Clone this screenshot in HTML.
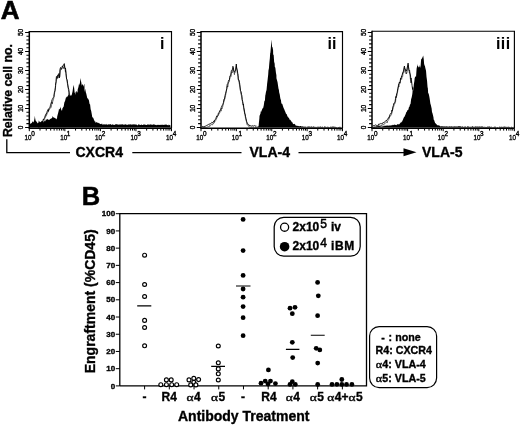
<!DOCTYPE html>
<html><head><meta charset="utf-8"><style>
html,body{margin:0;padding:0;background:#fff;}
svg{display:block;will-change:transform;filter:blur(0.28px);}
text{font-family:"Liberation Sans", sans-serif;fill:#000;stroke:#000;stroke-width:0.35px;}
</style></head><body>
<svg width="520" height="426" viewBox="0 0 520 426">
<text x="0.8" y="19.4" font-size="26" font-weight="bold" style="stroke-width:0.6px">A</text>
<path d="M38.50,125.50L39.05,125.77L39.60,124.89L40.15,124.84L40.50,124.00L40.70,124.10L41.25,124.05L41.80,122.70L42.35,121.54L42.90,120.62L43.40,119.20L43.45,119.87L44.00,118.79L44.55,117.69L45.10,116.07L45.65,114.70L45.70,114.20L46.20,114.51L46.75,112.97L47.30,111.09L47.85,110.16L48.00,109.60L48.40,111.41L48.95,108.31L49.50,107.91L50.05,107.39L50.30,105.80L50.60,104.88L51.15,103.06L51.70,101.42L52.00,100.00L52.25,99.45L52.80,98.34L53.35,97.50L53.90,96.68L54.00,95.00L54.45,92.20L55.00,90.78L55.55,85.45L55.60,84.00L56.10,81.73L56.40,76.50L56.65,76.51L57.20,78.19L57.75,74.88L58.30,75.64L58.85,73.95L58.90,73.50L59.40,77.88L59.95,69.66L60.50,67.50L61.05,68.71L61.60,69.20L62.15,66.63L62.20,66.00L62.70,66.79L63.25,64.99L63.80,64.94L64.30,63.60L64.35,64.01L64.90,67.95L65.45,69.13L65.50,68.20L66.00,73.33L66.55,79.10L67.10,79.70L67.65,83.72L68.20,87.16L68.75,89.31L68.80,89.60L69.30,93.97L69.60,94.50L69.85,96.26L70.40,98.89L70.95,99.95L71.00,100.00L71.50,102.95L72.05,103.84L72.60,104.95L73.00,106.00L73.15,106.81L73.70,106.79L74.25,106.48L74.80,107.70" fill="none" stroke="#000" stroke-width="0.9"/>
<path d="M38.50,127.30L39.05,127.40L39.60,126.50L40.15,126.23L40.50,125.80L40.70,126.05L41.25,125.42L41.80,124.50L42.35,124.13L42.90,122.69L43.40,121.00L43.45,120.95L44.00,120.21L44.55,118.86L45.10,117.83L45.65,117.07L45.70,116.00L46.20,115.97L46.75,114.69L47.30,113.32L47.85,112.31L48.00,111.40L48.40,111.21L48.95,110.04L49.50,109.03L50.05,108.83L50.30,107.60L50.60,107.32L51.15,107.60L51.70,104.49L52.00,101.80L52.25,103.88L52.80,101.29L53.35,99.82L53.90,97.60L54.00,96.80L54.45,94.31L55.00,90.18L55.55,87.30L55.60,85.80L56.10,81.85L56.40,78.30L56.65,78.50L57.20,78.90L57.75,77.29L58.30,77.77L58.85,75.52L58.90,75.30L59.40,77.35L59.95,76.90L60.50,69.30L61.05,69.65L61.60,68.77L62.15,68.25L62.20,67.80L62.70,67.83L63.25,67.17L63.80,68.75L64.30,65.40L64.35,65.98L64.90,68.04L65.45,71.83L65.50,70.00L66.00,73.74L66.55,78.30L67.10,81.50L67.65,85.21L68.20,88.45L68.75,91.51L68.80,91.40L69.30,95.21L69.60,96.30L69.85,98.95L70.40,100.29L70.95,102.45L71.00,101.80L71.50,104.32L72.05,105.22L72.60,106.88L73.00,107.80" fill="none" stroke="#000" stroke-width="0.7" opacity="0.8"/>
<path d="M29.6,127.6L29.60,124.39L30.15,123.88L30.30,123.80L30.70,123.57L31.25,123.15L31.80,122.91L32.35,121.79L32.60,121.50L32.90,121.58L33.45,122.41L34.00,121.00L34.55,118.21L34.90,115.80L35.10,117.99L35.65,121.09L35.70,120.40L36.20,121.32L36.75,122.02L37.30,122.75L37.85,123.53L38.00,123.00L38.40,122.73L38.80,120.00L38.95,121.41L39.50,121.34L40.05,122.48L40.30,121.90L40.60,122.09L41.15,121.51L41.70,121.27L42.00,120.40L42.25,120.67L42.80,121.14L43.35,122.83L43.40,121.50L43.90,121.65L44.45,120.94L45.00,120.20L45.55,121.48L45.70,119.60L46.10,119.53L46.65,119.69L47.20,118.80L47.75,119.58L48.30,119.77L48.80,119.60L48.85,120.05L49.40,119.63L49.95,119.36L50.50,118.87L51.05,118.76L51.10,118.50L51.60,118.30L52.15,117.96L52.60,115.80L52.70,116.62L53.25,116.92L53.80,117.70L54.20,117.30L54.35,117.94L54.90,118.01L55.45,118.43L55.70,118.50L56.00,118.40L56.55,119.46L57.10,117.85L57.20,116.50L57.65,114.76L58.20,112.77L58.75,110.62L58.80,109.60L59.30,109.18L59.85,109.04L60.30,106.50L60.40,107.41L60.95,108.73L61.50,110.46L61.80,110.40L62.05,110.52L62.50,108.00L62.60,108.18L63.15,107.28L63.70,106.56L64.25,102.95L64.70,101.10L64.80,102.31L65.35,99.85L65.90,97.70L66.30,96.20L66.45,97.62L67.00,97.35L67.55,96.33L68.10,95.47L68.65,94.36L68.80,92.90L69.20,94.41L69.75,96.11L70.30,95.66L70.85,95.24L71.20,95.30L71.40,95.73L71.95,94.12L72.50,91.65L73.05,88.12L73.60,85.53L73.70,84.70L74.15,88.01L74.70,93.28L75.25,91.65L75.30,91.20L75.80,95.04L76.35,90.71L76.90,91.66L77.45,92.68L77.80,88.80L78.00,88.73L78.55,86.53L79.10,83.28L79.65,85.48L80.20,80.24L80.30,78.10L80.75,80.03L81.30,82.47L81.85,86.27L81.90,84.70L82.40,84.53L82.95,84.58L83.50,86.78L84.05,84.61L84.40,83.80L84.60,91.91L85.15,88.74L85.70,91.57L86.00,92.90L86.25,93.48L86.80,95.96L87.35,98.44L87.90,98.30L88.45,100.31L88.50,98.60L89.00,100.63L89.55,104.02L90.10,104.40L90.65,109.17L91.20,110.95L91.75,114.09L91.80,114.20L92.30,117.52L92.85,117.13L93.40,118.35L93.95,119.78L94.20,120.00L94.50,121.62L95.05,120.94L95.60,122.66L96.15,122.50L96.70,121.99L97.25,122.43L97.50,122.50L97.80,122.98L98.35,122.79L98.90,123.27L99.45,123.32L100.00,123.91L100.55,124.03L101.10,124.22L101.65,123.81L102.00,123.50L102.20,123.72L102.75,125.06L103.30,124.23L103.85,124.38L104.40,123.95L104.95,125.00L105.50,124.44L106.05,123.79L106.60,124.39L107.15,124.89L107.70,124.52L108.25,124.08L108.80,124.66L109.35,124.28L109.90,124.45L110.00,124.00L110.45,124.07L111.00,124.75L111.55,124.91L112.10,124.11L112.65,124.87L113.20,124.61L113.75,125.04L114.30,124.79L114.85,125.03L115.40,124.26L115.95,124.24L116.50,124.23L117.05,124.36L117.60,124.46L118.15,124.87L118.70,124.42L119.25,124.85L119.80,124.29L120.35,124.59L120.90,124.59L121.45,124.27L122.00,124.64L122.55,124.12L123.10,124.69L123.65,124.50L124.20,124.89L124.75,124.28L125.30,124.32L125.85,124.47L126.40,124.95L126.95,124.19L127.50,124.98L128.05,124.65L128.60,124.37L129.15,124.81L129.70,124.28L130.25,124.50L130.80,124.29L131.35,124.43L131.90,124.63L132.45,124.22L133.00,124.69L133.55,124.26L134.10,124.22L134.65,124.50L135.20,124.56L135.75,124.39L136.30,124.79L136.85,124.46L137.40,125.48L137.95,125.11L138.50,124.24L139.05,124.57L139.60,124.78L140.15,125.10L140.70,124.93L141.25,124.26L141.80,124.89L142.35,124.92L142.90,125.12L143.45,124.37L144.00,124.98L144.55,124.32L145.10,124.85L145.65,124.68L146.20,125.04L146.75,125.01L147.30,124.43L147.85,124.53L148.40,124.79L148.95,124.37L149.50,124.82L150.05,124.86L150.60,124.33L151.15,124.44L151.70,124.63L152.25,124.45L152.80,125.05L153.35,124.36L153.90,124.53L154.45,124.52L155.00,124.80L155.55,125.07L156.10,124.67L156.65,125.26L157.20,125.12L157.75,124.79L158.30,124.69L158.85,124.97L159.40,124.98L159.95,124.83L160.50,125.06L161.05,124.54L161.60,124.99L162.15,124.75L162.70,124.73L163.25,124.89L163.80,124.74L164.35,124.87L164.90,124.83L165.45,124.57L166.00,124.78L166.55,124.58L167.10,124.88L167.65,125.14L168.20,124.60L168.75,125.49L169.30,124.83L169.85,125.22L170.40,125.23L170.5,127.6Z" fill="#000"/>
<path d="M202.00,126.50L202.55,126.45L203.10,127.12L203.65,126.64L204.20,127.08L204.75,126.19L205.00,126.00L205.30,126.21L205.85,125.82L206.40,125.63L206.95,125.08L207.50,125.08L208.05,124.90L208.60,124.32L209.15,124.14L209.50,123.80L209.70,124.27L210.25,123.74L210.80,123.66L211.35,123.08L211.90,122.26L212.45,122.64L213.00,122.54L213.55,121.57L213.90,120.90L214.10,121.68L214.65,120.13L215.20,119.70L215.75,118.95L216.30,117.17L216.85,115.85L217.40,116.42L217.95,115.28L218.40,113.10L218.50,113.02L219.05,112.65L219.60,111.05L220.15,110.21L220.70,109.21L221.25,107.51L221.70,106.40L221.80,106.55L222.35,105.10L222.90,104.30L223.45,102.47L224.00,99.06L224.55,99.06L225.10,95.30L225.65,93.26L226.20,91.14L226.75,88.60L227.30,84.10L227.85,83.45L228.40,81.26L228.95,79.90L229.50,79.72L229.60,77.40L230.05,75.67L230.60,75.51L231.15,72.80L231.30,70.70L231.70,70.80L232.25,69.66L232.80,68.29L232.90,66.30L233.35,67.98L233.90,71.16L234.45,72.25L234.50,71.80L235.00,71.38L235.55,69.86L236.10,66.20L236.30,64.00L236.65,68.01L237.20,69.90L237.75,73.46L238.00,74.10L238.30,79.85L238.85,79.74L239.40,82.13L239.60,83.00L239.95,85.99L240.50,90.69L241.05,91.64L241.60,94.78L241.80,95.30L242.15,99.41L242.70,101.53L243.25,104.86L243.40,104.20L243.80,107.63L244.35,110.02L244.90,114.17L245.20,114.20L245.45,116.20L246.00,118.55L246.55,121.31L247.00,122.10L247.10,123.50L247.65,123.71L248.20,124.20L248.75,124.51L249.30,125.77L249.60,125.40L249.85,126.04L250.40,125.76L250.95,125.96L251.50,126.09L252.05,125.65L252.60,125.79L253.15,125.83L253.70,126.12L254.25,125.70L254.80,125.65L255.35,126.12L255.90,125.73L256.45,126.05" fill="none" stroke="#000" stroke-width="0.9"/>
<path d="M202.00,127.40L202.55,127.40L203.10,127.40L203.65,127.40L204.20,127.40L204.75,127.40L205.00,127.40L205.30,127.40L205.85,127.40L206.40,127.27L206.95,127.40L207.50,126.91L208.05,126.71L208.60,126.65L209.15,125.95L209.50,125.60L209.70,126.51L210.25,125.45L210.80,125.11L211.35,124.51L211.90,124.88L212.45,124.95L213.00,123.52L213.55,123.62L213.90,122.70L214.10,123.05L214.65,121.52L215.20,121.37L215.75,120.39L216.30,118.99L216.85,118.09L217.40,116.68L217.95,115.85L218.40,114.90L218.50,114.83L219.05,113.99L219.60,113.12L220.15,111.79L220.70,110.33L221.25,111.14L221.70,108.20L221.80,108.99L222.35,107.89L222.90,105.87L223.45,103.44L224.00,101.46L224.55,99.69L225.10,97.10L225.65,95.23L226.20,91.82L226.75,89.17L227.30,85.90L227.85,86.85L228.40,82.94L228.95,81.98L229.50,81.38L229.60,79.20L230.05,77.81L230.60,76.49L231.15,76.48L231.30,72.50L231.70,72.12L232.25,72.96L232.80,69.27L232.90,68.10L233.35,70.20L233.90,71.68L234.45,74.68L234.50,73.60L235.00,72.87L235.55,70.37L236.10,68.78L236.30,65.80L236.65,68.16L237.20,72.08L237.75,75.72L238.00,75.90L238.30,78.91L238.85,80.91L239.40,84.49L239.60,84.80L239.95,87.38L240.50,91.40L241.05,94.28L241.60,96.29L241.80,97.10L242.15,99.57L242.70,103.13L243.25,105.66L243.40,106.00L243.80,109.86L244.35,111.96L244.90,114.36L245.20,116.00L245.45,117.83L246.00,119.93L246.55,122.12L247.00,123.90L247.10,125.03L247.65,124.80L248.20,125.47L248.75,126.64L249.30,126.95L249.60,127.20L249.85,127.40L250.40,127.40L250.95,127.40L251.50,127.40L252.05,127.40L252.60,127.28L253.15,127.40L253.70,127.40L254.25,127.40L254.80,127.23" fill="none" stroke="#000" stroke-width="0.7" opacity="0.8"/>
<path d="M255.0,127.6L255.00,126.50L255.55,127.02L256.10,126.83L256.65,126.95L257.20,127.16L257.75,126.17L258.30,126.43L258.60,126.00L258.85,123.31L259.40,118.30L259.50,116.00L259.95,114.69L260.50,113.50L260.80,110.90L261.05,111.93L261.60,110.70L262.15,109.23L262.70,108.28L263.25,107.72L263.50,106.40L263.80,105.24L264.35,101.32L264.90,100.46L265.30,95.30L265.45,94.99L266.00,91.67L266.55,90.12L267.10,84.10L267.65,79.40L268.20,74.42L268.60,68.50L268.75,70.25L269.30,63.46L269.85,58.18L270.20,52.90L270.40,52.68L270.95,46.30L271.50,39.50L272.05,46.74L272.60,47.59L273.10,50.60L273.15,54.33L273.70,55.27L274.25,63.69L274.60,61.80L274.80,66.72L275.35,67.86L275.90,72.56L276.40,75.20L276.45,78.22L277.00,80.32L277.55,82.28L278.10,85.89L278.65,89.86L278.70,88.60L279.20,92.59L279.75,94.52L280.30,98.25L280.85,99.96L280.90,99.70L281.40,103.63L281.95,103.51L282.50,104.57L283.05,106.46L283.10,106.40L283.60,108.07L284.15,109.01L284.70,110.54L285.25,111.66L285.40,112.00L285.80,113.16L286.35,114.02L286.90,114.61L287.45,116.80L288.00,116.57L288.55,118.22L288.70,117.60L289.10,118.32L289.65,119.66L290.20,119.66L290.75,120.57L291.30,121.21L291.85,122.24L292.10,122.10L292.40,122.40L292.95,123.71L293.50,124.22L294.05,123.86L294.60,124.11L295.15,124.60L295.70,125.48L296.25,126.04L296.50,125.40L296.80,125.54L297.35,126.03L297.90,125.78L298.45,126.05L299.00,126.28L299.55,126.18L300.10,126.03L300.65,126.06L301.20,126.34L301.75,126.50L302.30,126.59L302.85,126.27L303.20,126.30L303.40,126.79L303.95,126.72L304.50,126.40L305.05,126.97L305.60,126.39L306.15,126.56L306.70,127.46L307.25,126.57L307.80,126.63L308.35,126.61L308.90,126.40L309.45,126.46L310.00,126.69L310.55,126.63L311.10,126.64L311.65,126.37L312.20,127.04L312.75,126.73L313.30,126.58L313.85,126.42L314.40,126.86L314.95,127.01L315.50,126.64L316.05,127.17L316.60,126.70L317.15,127.35L317.70,126.46L318.25,126.74L318.80,126.78L319.35,127.02L319.90,126.58L320.45,126.50L321.00,126.86L321.55,127.02L322.10,126.79L322.65,126.47L323.20,127.60L323.75,126.90L324.30,126.55L324.85,126.49L325.40,126.70L325.95,126.71L326.50,127.20L327.05,126.72L327.60,126.78L328.15,127.07L328.70,126.70L329.25,127.13L329.80,127.09L330.35,126.53L330.90,126.98L331.45,126.75L332.00,126.64L332.55,126.57L333.10,126.80L333.65,126.58L334.20,126.81L334.75,126.71L335.30,126.85L335.85,126.98L336.40,127.12L336.95,127.25L337.50,127.47L338.05,126.91L338.60,127.09L339.15,127.05L339.70,126.72L340.25,126.64L340.80,127.13L341.35,127.48L341.8,127.6Z" fill="#000"/>
<path d="M373.00,125.58L373.50,125.50L373.55,125.51L374.10,125.37L374.65,125.53L375.20,125.16L375.75,124.93L376.30,125.40L376.85,125.22L377.40,125.97L377.95,126.22L378.50,124.24L379.05,124.59L379.30,124.00L379.60,124.00L380.15,124.10L380.70,123.44L381.25,123.61L381.80,123.72L382.35,123.68L382.90,122.60L383.45,122.66L384.00,122.00L384.55,122.26L385.10,121.50L385.65,120.80L386.20,121.03L386.75,120.11L387.30,119.57L387.60,119.20L387.85,119.29L388.40,117.78L388.95,117.96L389.50,115.96L390.05,114.53L390.60,113.54L391.15,113.59L391.70,112.79L391.80,110.30L392.25,111.11L392.80,107.08L393.35,105.66L393.90,103.30L394.45,102.65L395.00,102.02L395.55,98.40L395.90,96.50L396.10,97.53L396.65,93.51L397.20,92.31L397.75,88.76L398.30,86.25L398.70,84.00L398.85,83.90L399.40,82.13L399.95,83.22L400.50,78.96L400.60,78.00L401.05,78.51L401.60,76.01L402.15,75.11L402.70,72.54L402.90,72.00L403.25,72.30L403.80,68.99L404.35,66.36L404.40,66.00L404.90,68.93L405.45,69.32L406.00,71.39L406.30,70.60L406.55,71.01L407.10,68.29L407.65,65.73L408.10,63.10L408.20,63.90L408.75,69.37L409.30,71.02L409.60,70.60L409.85,72.86L410.40,75.03L410.95,79.52L411.00,78.10L411.50,80.79L412.05,85.54L412.60,89.41L412.80,87.50L413.15,91.94L413.40,95.00L413.70,97.95" fill="none" stroke="#000" stroke-width="0.9"/>
<path d="M373.00,127.40L373.50,127.30L373.55,127.40L374.10,127.40L374.65,127.40L375.20,127.40L375.75,126.84L376.30,126.97L376.85,127.07L377.40,126.46L377.95,126.27L378.50,126.40L379.05,126.02L379.30,125.80L379.60,126.10L380.15,126.07L380.70,125.46L381.25,125.05L381.80,125.84L382.35,124.70L382.90,124.59L383.45,125.07L384.00,123.80L384.55,123.74L385.10,123.38L385.65,123.04L386.20,122.37L386.75,121.84L387.30,122.70L387.60,121.00L387.85,120.92L388.40,119.84L388.95,119.26L389.50,117.15L390.05,115.89L390.60,116.06L391.15,114.60L391.70,114.29L391.80,112.10L392.25,110.65L392.80,109.50L393.35,107.39L393.90,106.02L394.45,103.33L395.00,103.68L395.55,101.69L395.90,98.30L396.10,97.54L396.65,96.21L397.20,94.63L397.75,90.74L398.30,87.91L398.70,85.80L398.85,86.94L399.40,83.74L399.95,83.29L400.50,80.32L400.60,79.80L401.05,78.79L401.60,79.42L402.15,76.56L402.70,76.58L402.90,73.80L403.25,73.11L403.80,72.86L404.35,70.95L404.40,67.80L404.90,69.12L405.45,70.58L406.00,73.74L406.30,72.40L406.55,73.75L407.10,72.13L407.65,67.37L408.10,64.90L408.20,66.06L408.75,68.20L409.30,72.93L409.60,72.40L409.85,74.44L410.40,79.15L410.95,82.99L411.00,79.90L411.50,82.72" fill="none" stroke="#000" stroke-width="0.7" opacity="0.8"/>
<path d="M372.6,127.6L372.60,126.30L373.15,126.64L373.70,126.69L374.25,126.70L374.80,126.48L375.35,126.80L375.90,126.56L376.45,126.18L377.00,126.83L377.55,126.52L378.10,126.10L378.65,126.20L379.20,126.27L379.75,126.03L380.00,126.00L380.30,126.40L380.85,126.22L381.40,127.09L381.95,125.82L382.50,126.82L383.05,125.95L383.60,126.34L384.15,126.13L384.70,125.60L385.25,125.75L385.80,125.70L386.35,125.40L386.90,125.72L387.45,125.26L388.00,126.09L388.55,125.42L389.10,125.49L389.40,125.00L389.65,125.80L390.20,125.96L390.75,124.91L391.30,124.98L391.85,125.79L392.40,124.88L392.95,124.83L393.50,125.26L394.05,124.59L394.60,124.82L395.15,124.66L395.70,124.99L396.25,125.14L396.80,124.64L397.35,124.25L397.90,124.28L398.45,124.50L398.80,124.10L399.00,124.46L399.55,123.94L400.10,123.14L400.65,122.45L401.20,122.39L401.75,121.75L402.30,121.13L402.50,120.40L402.85,120.02L403.40,118.45L403.95,117.25L404.50,116.80L405.05,115.46L405.60,114.33L406.15,112.77L406.30,111.90L406.70,111.96L407.25,110.51L407.80,110.06L408.35,109.66L408.90,107.23L409.45,106.78L410.00,104.40L410.55,103.89L411.10,99.35L411.65,97.38L412.20,94.80L412.75,92.02L412.80,91.30L413.30,90.40L413.85,84.16L414.40,81.09L414.70,78.10L414.95,77.41L415.50,76.32L416.05,76.78L416.60,68.80L417.15,66.07L417.50,64.10L417.70,65.92L418.25,66.51L418.80,67.54L419.35,66.99L419.40,66.90L419.90,65.02L420.45,68.26L421.00,60.75L421.30,58.40L421.55,59.32L422.10,58.22L422.65,57.04L423.20,55.60L423.75,59.23L424.30,66.18L424.70,64.10L424.85,65.80L425.40,68.30L425.95,70.52L426.00,70.60L426.50,76.78L427.05,80.72L427.60,87.79L427.80,87.50L428.15,93.10L428.70,93.63L429.25,96.14L429.70,98.80L429.80,99.61L430.35,103.38L430.90,105.22L431.45,107.82L431.60,108.20L432.00,112.02L432.55,113.60L433.10,115.68L433.50,117.50L433.65,119.60L434.20,120.27L434.75,121.96L435.30,123.20L435.85,123.59L436.40,124.22L436.95,124.71L437.50,125.42L438.05,125.08L438.60,125.45L439.15,125.59L439.70,125.87L440.00,126.00L440.25,126.14L440.80,126.40L441.35,126.15L441.90,126.16L442.45,126.45L443.00,126.04L443.55,126.65L444.10,126.04L444.65,126.70L445.20,126.16L445.75,126.63L446.30,126.06L446.85,126.68L447.40,126.40L447.95,126.46L448.50,126.77L449.05,126.29L449.60,126.59L450.15,126.36L450.70,126.85L451.25,126.52L451.80,126.24L452.35,126.48L452.90,126.80L453.45,126.52L454.00,126.40L454.55,126.21L455.10,126.67L455.65,126.27L456.20,126.83L456.75,126.22L457.30,126.63L457.85,126.27L458.40,126.27L458.95,126.24L459.50,126.22L460.05,126.36L460.60,126.37L461.15,126.91L461.70,126.38L462.25,126.28L462.80,126.77L463.35,126.74L463.90,127.00L464.45,126.57L465.00,126.81L465.55,126.26L466.10,127.32L466.65,126.90L467.20,126.28L467.75,126.40L468.30,126.80L468.85,126.36L469.40,126.88L469.95,126.70L470.50,126.89L471.05,126.26L471.60,127.34L472.15,126.34L472.70,126.33L473.25,127.00L473.80,126.61L474.35,127.19L474.90,126.30L475.45,126.56L476.00,126.38L476.55,126.56L477.10,126.93L477.65,126.32L478.20,126.56L478.75,126.65L479.30,126.43L479.85,126.48L480.40,126.83L480.95,126.42L481.50,126.53L482.05,126.45L482.60,126.41L483.15,126.79L483.70,126.96L484.25,126.52L484.80,127.20L485.35,127.08L485.90,126.78L486.45,127.12L487.00,127.03L487.55,126.60L488.10,126.53L488.65,126.63L489.20,126.61L489.75,126.42L490.30,126.88L490.85,126.73L491.40,126.45L491.95,127.48L492.50,127.01L493.05,127.16L493.60,126.89L494.15,126.86L494.70,126.72L495.25,126.52L495.80,127.07L496.35,127.60L496.90,126.88L497.45,126.88L498.00,127.05L498.55,127.56L499.10,127.10L499.65,126.57L500.20,126.63L500.75,126.97L501.30,126.63L501.85,126.81L502.40,126.94L502.95,126.76L503.50,126.63L504.05,126.81L504.60,126.59L505.15,126.77L505.70,126.75L506.25,127.12L506.80,126.87L507.35,127.04L507.90,126.64L508.45,126.64L509.00,126.69L509.55,127.04L510.10,126.92L510.65,127.60L511.20,126.87L511.75,126.84L512.30,127.20L512.85,126.94L513.40,126.81L513.5,127.6Z" fill="#000"/>
<path d="M29.3,31.6H171.5V128.2" fill="none" stroke="#000" stroke-width="1.15"/>
<path d="M29.3,31.1V128.2H171.5" fill="none" stroke="#000" stroke-width="1.5"/>
<path d="M25.1,127.40H29.3M26.400000000000002,123.60H29.3M26.400000000000002,119.81H29.3M26.400000000000002,116.01H29.3M26.400000000000002,112.22H29.3M25.1,108.42H29.3M26.400000000000002,104.62H29.3M26.400000000000002,100.83H29.3M26.400000000000002,97.03H29.3M26.400000000000002,93.24H29.3M25.1,89.44H29.3M26.400000000000002,85.64H29.3M26.400000000000002,81.85H29.3M26.400000000000002,78.05H29.3M26.400000000000002,74.26H29.3M25.1,70.46H29.3M26.400000000000002,66.66H29.3M26.400000000000002,62.87H29.3M26.400000000000002,59.07H29.3M26.400000000000002,55.28H29.3M25.1,51.48H29.3M26.400000000000002,47.68H29.3M26.400000000000002,43.89H29.3M26.400000000000002,40.09H29.3M26.400000000000002,36.30H29.3M25.1,32.50H29.3" stroke="#000" stroke-width="1.05"/>
<text transform="translate(23.1,127.40) rotate(-90)" font-size="6.5" text-anchor="middle">0</text>
<text transform="translate(23.1,108.42) rotate(-90)" font-size="6.5" text-anchor="middle">10</text>
<text transform="translate(23.1,89.44) rotate(-90)" font-size="6.5" text-anchor="middle">20</text>
<text transform="translate(23.1,70.46) rotate(-90)" font-size="6.5" text-anchor="middle">30</text>
<text transform="translate(23.1,51.48) rotate(-90)" font-size="6.5" text-anchor="middle">40</text>
<text transform="translate(23.1,32.50) rotate(-90)" font-size="6.5" text-anchor="middle">50</text>
<path d="M29.30,128.2V131.2M40.00,128.2V130.6M46.26,128.2V130.6M50.70,128.2V130.6M54.15,128.2V130.6M56.96,128.2V130.6M59.34,128.2V130.6M61.40,128.2V130.6M63.22,128.2V130.6M64.85,128.2V131.2M75.55,128.2V130.6M81.81,128.2V130.6M86.25,128.2V130.6M89.70,128.2V130.6M92.51,128.2V130.6M94.89,128.2V130.6M96.95,128.2V130.6M98.77,128.2V130.6M100.40,128.2V131.2M111.10,128.2V130.6M117.36,128.2V130.6M121.80,128.2V130.6M125.25,128.2V130.6M128.06,128.2V130.6M130.44,128.2V130.6M132.50,128.2V130.6M134.32,128.2V130.6M135.95,128.2V131.2M146.65,128.2V130.6M152.91,128.2V130.6M157.35,128.2V130.6M160.80,128.2V130.6M163.61,128.2V130.6M165.99,128.2V130.6M168.05,128.2V130.6M169.87,128.2V130.6M171.5,128.2V131.2" stroke="#000" stroke-width="1"/>
<text transform="translate(28.10,139.8) scale(0.82,1)" font-size="7.7" text-anchor="middle">10</text>
<text x="31.30" y="135.6" font-size="6.4">0</text>
<text transform="translate(63.65,139.8) scale(0.82,1)" font-size="7.7" text-anchor="middle">10</text>
<text x="66.85" y="135.6" font-size="6.4">1</text>
<text transform="translate(98.50,139.8) scale(0.82,1)" font-size="7.7" text-anchor="middle">10</text>
<text x="101.70" y="135.6" font-size="6.4">2</text>
<text transform="translate(134.05,139.8) scale(0.82,1)" font-size="7.7" text-anchor="middle">10</text>
<text x="137.25" y="135.6" font-size="6.4">3</text>
<text transform="translate(169.60,139.8) scale(0.82,1)" font-size="7.7" text-anchor="middle">10</text>
<text x="172.80" y="135.6" font-size="6.4">4</text>
<text x="159.9" y="49.3" font-size="16" font-weight="bold" letter-spacing="0.2" style="stroke-width:0">i</text>
<path d="M201,31.6H342.5V128.2" fill="none" stroke="#000" stroke-width="1.15"/>
<path d="M201,31.1V128.2H342.5" fill="none" stroke="#000" stroke-width="1.5"/>
<path d="M196.8,127.40H201M198.1,123.60H201M198.1,119.81H201M198.1,116.01H201M198.1,112.22H201M196.8,108.42H201M198.1,104.62H201M198.1,100.83H201M198.1,97.03H201M198.1,93.24H201M196.8,89.44H201M198.1,85.64H201M198.1,81.85H201M198.1,78.05H201M198.1,74.26H201M196.8,70.46H201M198.1,66.66H201M198.1,62.87H201M198.1,59.07H201M198.1,55.28H201M196.8,51.48H201M198.1,47.68H201M198.1,43.89H201M198.1,40.09H201M198.1,36.30H201M196.8,32.50H201" stroke="#000" stroke-width="1.05"/>
<text transform="translate(194.8,127.40) rotate(-90)" font-size="6.5" text-anchor="middle">0</text>
<text transform="translate(194.8,108.42) rotate(-90)" font-size="6.5" text-anchor="middle">10</text>
<text transform="translate(194.8,89.44) rotate(-90)" font-size="6.5" text-anchor="middle">20</text>
<text transform="translate(194.8,70.46) rotate(-90)" font-size="6.5" text-anchor="middle">30</text>
<text transform="translate(194.8,51.48) rotate(-90)" font-size="6.5" text-anchor="middle">40</text>
<text transform="translate(194.8,32.50) rotate(-90)" font-size="6.5" text-anchor="middle">50</text>
<path d="M201.00,128.2V131.2M211.65,128.2V130.6M217.88,128.2V130.6M222.30,128.2V130.6M225.73,128.2V130.6M228.53,128.2V130.6M230.90,128.2V130.6M232.95,128.2V130.6M234.76,128.2V130.6M236.38,128.2V131.2M247.02,128.2V130.6M253.25,128.2V130.6M257.67,128.2V130.6M261.10,128.2V130.6M263.90,128.2V130.6M266.27,128.2V130.6M268.32,128.2V130.6M270.13,128.2V130.6M271.75,128.2V131.2M282.40,128.2V130.6M288.63,128.2V130.6M293.05,128.2V130.6M296.48,128.2V130.6M299.28,128.2V130.6M301.65,128.2V130.6M303.70,128.2V130.6M305.51,128.2V130.6M307.12,128.2V131.2M317.77,128.2V130.6M324.00,128.2V130.6M328.42,128.2V130.6M331.85,128.2V130.6M334.65,128.2V130.6M337.02,128.2V130.6M339.07,128.2V130.6M340.88,128.2V130.6M342.5,128.2V131.2" stroke="#000" stroke-width="1"/>
<text transform="translate(199.80,139.8) scale(0.82,1)" font-size="7.7" text-anchor="middle">10</text>
<text x="203.00" y="135.6" font-size="6.4">0</text>
<text transform="translate(235.18,139.8) scale(0.82,1)" font-size="7.7" text-anchor="middle">10</text>
<text x="238.38" y="135.6" font-size="6.4">1</text>
<text transform="translate(269.85,139.8) scale(0.82,1)" font-size="7.7" text-anchor="middle">10</text>
<text x="273.05" y="135.6" font-size="6.4">2</text>
<text transform="translate(305.23,139.8) scale(0.82,1)" font-size="7.7" text-anchor="middle">10</text>
<text x="308.43" y="135.6" font-size="6.4">3</text>
<text transform="translate(340.60,139.8) scale(0.82,1)" font-size="7.7" text-anchor="middle">10</text>
<text x="343.80" y="135.6" font-size="6.4">4</text>
<text x="327.4" y="49.3" font-size="16" font-weight="bold" letter-spacing="0.2" style="stroke-width:0">ii</text>
<path d="M372,31.2H514.4V128.2" fill="none" stroke="#000" stroke-width="1.15"/>
<path d="M372,30.7V128.2H514.4" fill="none" stroke="#000" stroke-width="1.5"/>
<path d="M367.8,127.40H372M369.1,123.60H372M369.1,119.81H372M369.1,116.01H372M369.1,112.22H372M367.8,108.42H372M369.1,104.62H372M369.1,100.83H372M369.1,97.03H372M369.1,93.24H372M367.8,89.44H372M369.1,85.64H372M369.1,81.85H372M369.1,78.05H372M369.1,74.26H372M367.8,70.46H372M369.1,66.66H372M369.1,62.87H372M369.1,59.07H372M369.1,55.28H372M367.8,51.48H372M369.1,47.68H372M369.1,43.89H372M369.1,40.09H372M369.1,36.30H372M367.8,32.50H372" stroke="#000" stroke-width="1.05"/>
<text transform="translate(365.8,127.40) rotate(-90)" font-size="6.5" text-anchor="middle">0</text>
<text transform="translate(365.8,108.42) rotate(-90)" font-size="6.5" text-anchor="middle">10</text>
<text transform="translate(365.8,89.44) rotate(-90)" font-size="6.5" text-anchor="middle">20</text>
<text transform="translate(365.8,70.46) rotate(-90)" font-size="6.5" text-anchor="middle">30</text>
<text transform="translate(365.8,51.48) rotate(-90)" font-size="6.5" text-anchor="middle">40</text>
<text transform="translate(365.8,32.50) rotate(-90)" font-size="6.5" text-anchor="middle">50</text>
<path d="M372.00,128.2V131.2M382.72,128.2V130.6M388.99,128.2V130.6M393.43,128.2V130.6M396.88,128.2V130.6M399.70,128.2V130.6M402.09,128.2V130.6M404.15,128.2V130.6M405.97,128.2V130.6M407.60,128.2V131.2M418.32,128.2V130.6M424.59,128.2V130.6M429.03,128.2V130.6M432.48,128.2V130.6M435.30,128.2V130.6M437.69,128.2V130.6M439.75,128.2V130.6M441.57,128.2V130.6M443.20,128.2V131.2M453.92,128.2V130.6M460.19,128.2V130.6M464.63,128.2V130.6M468.08,128.2V130.6M470.90,128.2V130.6M473.29,128.2V130.6M475.35,128.2V130.6M477.17,128.2V130.6M478.80,128.2V131.2M489.52,128.2V130.6M495.79,128.2V130.6M500.23,128.2V130.6M503.68,128.2V130.6M506.50,128.2V130.6M508.89,128.2V130.6M510.95,128.2V130.6M512.77,128.2V130.6M514.4,128.2V131.2" stroke="#000" stroke-width="1"/>
<text transform="translate(370.80,139.8) scale(0.82,1)" font-size="7.7" text-anchor="middle">10</text>
<text x="374.00" y="135.6" font-size="6.4">0</text>
<text transform="translate(406.40,139.8) scale(0.82,1)" font-size="7.7" text-anchor="middle">10</text>
<text x="409.60" y="135.6" font-size="6.4">1</text>
<text transform="translate(441.30,139.8) scale(0.82,1)" font-size="7.7" text-anchor="middle">10</text>
<text x="444.50" y="135.6" font-size="6.4">2</text>
<text transform="translate(476.90,139.8) scale(0.82,1)" font-size="7.7" text-anchor="middle">10</text>
<text x="480.10" y="135.6" font-size="6.4">3</text>
<text transform="translate(512.50,139.8) scale(0.82,1)" font-size="7.7" text-anchor="middle">10</text>
<text x="515.70" y="135.6" font-size="6.4">4</text>
<text x="495.9" y="49.3" font-size="16" font-weight="bold" letter-spacing="0.5" style="stroke-width:0">iii</text>
<text transform="translate(11.8,137.1) rotate(-90)" font-size="12.3" font-weight="bold">Relative cell no.</text>
<path d="M6.8,139.2V152.7H70M132.3,152.7H241.5M298.5,152.7H405" fill="none" stroke="#000" stroke-width="1.3"/>
<path d="M403.5,148.3L416.5,152.3L403.5,156.3Z" fill="#000"/>
<text x="75.5" y="157" font-size="14" font-weight="bold">CXCR4</text>
<text x="249.5" y="157" font-size="14" font-weight="bold">VLA-4</text>
<text x="422" y="157" font-size="14" font-weight="bold">VLA-5</text>
<text x="81.8" y="204.8" font-size="25.5" font-weight="bold" style="stroke-width:0.5px">B</text>
<path d="M119.8,385.9V213.7H366.5V385.9H119.8" fill="none" stroke="#000" stroke-width="1.3"/>
<text x="115.1" y="388.50" font-size="8" font-weight="bold" text-anchor="end">0</text>
<text x="115.1" y="371.28" font-size="8" font-weight="bold" text-anchor="end">10</text>
<text x="115.1" y="354.06" font-size="8" font-weight="bold" text-anchor="end">20</text>
<text x="115.1" y="336.84" font-size="8" font-weight="bold" text-anchor="end">30</text>
<text x="115.1" y="319.62" font-size="8" font-weight="bold" text-anchor="end">40</text>
<text x="115.1" y="302.40" font-size="8" font-weight="bold" text-anchor="end">50</text>
<text x="115.1" y="285.18" font-size="8" font-weight="bold" text-anchor="end">60</text>
<text x="115.1" y="267.96" font-size="8" font-weight="bold" text-anchor="end">70</text>
<text x="115.1" y="250.74" font-size="8" font-weight="bold" text-anchor="end">80</text>
<text x="115.1" y="233.52" font-size="8" font-weight="bold" text-anchor="end">90</text>
<text x="115.1" y="216.30" font-size="8" font-weight="bold" text-anchor="end">100</text>
<path d="M115.8,385.90H119.8M115.8,368.68H119.8M115.8,351.46H119.8M115.8,334.24H119.8M115.8,317.02H119.8M115.8,299.80H119.8M115.8,282.58H119.8M115.8,265.36H119.8M115.8,248.14H119.8M115.8,230.92H119.8M115.8,213.70H119.8" stroke="#000" stroke-width="1"/>
<text x="142.40" y="401.2" font-size="12" font-weight="bold" >-</text>
<text x="161.53" y="401.2" font-size="12" font-weight="bold" >R4</text>
<text transform="translate(186.39,401.2) scale(1.12,0.88)" font-size="12" style="font-family:'Liberation Serif',serif;stroke-width:0.4px">α</text><text x="193.93" y="401.2" font-size="12" font-weight="bold" >4</text>
<text transform="translate(210.99,401.2) scale(1.12,0.88)" font-size="12" style="font-family:'Liberation Serif',serif;stroke-width:0.4px">α</text><text x="218.53" y="401.2" font-size="12" font-weight="bold" >5</text>
<text x="241.00" y="401.2" font-size="12" font-weight="bold" >-</text>
<text x="261.33" y="401.2" font-size="12" font-weight="bold" >R4</text>
<text transform="translate(285.64,401.2) scale(1.12,0.88)" font-size="12" style="font-family:'Liberation Serif',serif;stroke-width:0.4px">α</text><text x="293.18" y="401.2" font-size="12" font-weight="bold" >4</text>
<text transform="translate(309.79,401.2) scale(1.12,0.88)" font-size="12" style="font-family:'Liberation Serif',serif;stroke-width:0.4px">α</text><text x="317.33" y="401.2" font-size="12" font-weight="bold" >5</text>
<text transform="translate(327.18,401.2) scale(1.12,0.88)" font-size="12" style="font-family:'Liberation Serif',serif;stroke-width:0.4px">α</text><text x="334.72" y="401.2" font-size="12" font-weight="bold" >4+</text><text transform="translate(348.40,401.2) scale(1.12,0.88)" font-size="12" style="font-family:'Liberation Serif',serif;stroke-width:0.4px">α</text><text x="355.95" y="401.2" font-size="12" font-weight="bold" >5</text>
<path d="M144.60,385.9V389.4M169.32,385.9V389.4M194.04,385.9V389.4M218.76,385.9V389.4M243.48,385.9V389.4M268.20,385.9V389.4M292.92,385.9V389.4M317.64,385.9V389.4M342.36,385.9V389.4" stroke="#000" stroke-width="1"/>
<text x="178" y="420.8" font-size="14" font-weight="bold">Antibody Treatment</text>
<text transform="translate(95.2,373.3) rotate(-90)" font-size="14" font-weight="bold">Engraftment (%CD45)</text>
<path d="M137.2,305.9H151.3M211.2,366.4H225M236,286H250.5M285.9,349.4H299.4M310.8,335.3H324.7" stroke="#000" stroke-width="1.1"/>
<circle cx="144.6" cy="255.2" r="1.95" fill="#fff" stroke="#000" stroke-width="1.15"/>
<circle cx="144.6" cy="284.5" r="1.95" fill="#fff" stroke="#000" stroke-width="1.15"/>
<circle cx="144.6" cy="296.5" r="1.95" fill="#fff" stroke="#000" stroke-width="1.15"/>
<circle cx="144.6" cy="320.4" r="1.95" fill="#fff" stroke="#000" stroke-width="1.15"/>
<circle cx="144.6" cy="327.5" r="1.95" fill="#fff" stroke="#000" stroke-width="1.15"/>
<circle cx="144.6" cy="345.8" r="1.95" fill="#fff" stroke="#000" stroke-width="1.15"/>
<circle cx="160.8" cy="384.7" r="1.95" fill="#fff" stroke="#000" stroke-width="1.15"/>
<circle cx="166.4" cy="384.7" r="1.95" fill="#fff" stroke="#000" stroke-width="1.15"/>
<circle cx="171.7" cy="384.7" r="1.95" fill="#fff" stroke="#000" stroke-width="1.15"/>
<circle cx="176.7" cy="384.7" r="1.95" fill="#fff" stroke="#000" stroke-width="1.15"/>
<circle cx="166.4" cy="379.9" r="1.95" fill="#fff" stroke="#000" stroke-width="1.15"/>
<circle cx="171.2" cy="379.9" r="1.95" fill="#fff" stroke="#000" stroke-width="1.15"/>
<circle cx="189" cy="379.9" r="1.95" fill="#fff" stroke="#000" stroke-width="1.15"/>
<circle cx="193.8" cy="378.4" r="1.95" fill="#fff" stroke="#000" stroke-width="1.15"/>
<circle cx="198.6" cy="379.6" r="1.95" fill="#fff" stroke="#000" stroke-width="1.15"/>
<circle cx="193.8" cy="382.3" r="1.95" fill="#fff" stroke="#000" stroke-width="1.15"/>
<circle cx="190.7" cy="384.9" r="1.95" fill="#fff" stroke="#000" stroke-width="1.15"/>
<circle cx="195.9" cy="384.9" r="1.95" fill="#fff" stroke="#000" stroke-width="1.15"/>
<circle cx="218.3" cy="346" r="1.95" fill="#fff" stroke="#000" stroke-width="1.15"/>
<circle cx="218.3" cy="362.8" r="1.95" fill="#fff" stroke="#000" stroke-width="1.15"/>
<circle cx="218.3" cy="368.9" r="1.95" fill="#fff" stroke="#000" stroke-width="1.15"/>
<circle cx="218.3" cy="373.8" r="1.95" fill="#fff" stroke="#000" stroke-width="1.15"/>
<circle cx="218.3" cy="380" r="1.95" fill="#fff" stroke="#000" stroke-width="1.15"/>
<circle cx="243.1" cy="219.4" r="2.4" fill="#000"/>
<circle cx="243.1" cy="250.6" r="2.4" fill="#000"/>
<circle cx="243.1" cy="275.4" r="2.4" fill="#000"/>
<circle cx="243.1" cy="289" r="2.4" fill="#000"/>
<circle cx="243.1" cy="297.2" r="2.4" fill="#000"/>
<circle cx="243.1" cy="306.6" r="2.4" fill="#000"/>
<circle cx="243.1" cy="317.7" r="2.4" fill="#000"/>
<circle cx="243.1" cy="335.7" r="2.4" fill="#000"/>
<circle cx="268.4" cy="369.9" r="2.4" fill="#000"/>
<circle cx="261" cy="383.2" r="2.4" fill="#000"/>
<circle cx="265.2" cy="381.1" r="2.4" fill="#000"/>
<circle cx="270.5" cy="381.1" r="2.4" fill="#000"/>
<circle cx="268" cy="384" r="2.4" fill="#000"/>
<circle cx="275.4" cy="383.6" r="2.4" fill="#000"/>
<circle cx="290" cy="308.2" r="2.4" fill="#000"/>
<circle cx="295" cy="307.3" r="2.4" fill="#000"/>
<circle cx="292.3" cy="313.7" r="2.4" fill="#000"/>
<circle cx="292.3" cy="342.3" r="2.4" fill="#000"/>
<circle cx="292.7" cy="357.6" r="2.4" fill="#000"/>
<circle cx="292.3" cy="381.7" r="2.4" fill="#000"/>
<circle cx="290" cy="384.4" r="2.4" fill="#000"/>
<circle cx="295.3" cy="384.4" r="2.4" fill="#000"/>
<circle cx="317.6" cy="282.4" r="2.4" fill="#000"/>
<circle cx="318.3" cy="295.8" r="2.4" fill="#000"/>
<circle cx="317.6" cy="315.7" r="2.4" fill="#000"/>
<circle cx="316.2" cy="348.3" r="2.4" fill="#000"/>
<circle cx="319.8" cy="349.9" r="2.4" fill="#000"/>
<circle cx="317.7" cy="363.1" r="2.4" fill="#000"/>
<circle cx="317.7" cy="384.5" r="2.4" fill="#000"/>
<circle cx="332" cy="384.4" r="2.4" fill="#000"/>
<circle cx="336.9" cy="384.3" r="2.4" fill="#000"/>
<circle cx="341.8" cy="379.5" r="2.4" fill="#000"/>
<circle cx="341.8" cy="384.4" r="2.4" fill="#000"/>
<circle cx="346.5" cy="384.4" r="2.4" fill="#000"/>
<circle cx="351.9" cy="384.4" r="2.4" fill="#000"/>
<rect x="274.2" y="217.3" width="86" height="38.8" rx="9.5" fill="#fff" stroke="#000" stroke-width="1.25"/>
<circle cx="284.6" cy="227.2" r="4.05" fill="#fff" stroke="#000" stroke-width="1.3"/>
<circle cx="284.6" cy="246.7" r="4.8" fill="#000"/>
<text x="292.6" y="230.7" font-size="12" font-weight="bold">2x10</text>
<text x="320.2" y="227.6" font-size="12" style="stroke-width:0.5px">5</text>
<text x="331.0" y="230.7" font-size="12" font-weight="bold" letter-spacing="0">iv</text>
<text x="292.6" y="250.4" font-size="12" font-weight="bold">2x10</text>
<text x="320.2" y="247.3" font-size="12" style="stroke-width:0.5px">4</text>
<text x="331.0" y="250.4" font-size="12" font-weight="bold" letter-spacing="0.6">iBM</text>
<rect x="369.6" y="326.6" width="67" height="61" rx="9.5" fill="#fff" stroke="#000" stroke-width="1.2"/>
<text x="381.2" y="340.5" font-size="10.7" font-weight="bold">-</text><text x="388.4" y="340.5" font-size="10.7" font-weight="bold">:</text><text x="395.2" y="340.5" font-size="10.7" font-weight="bold">none</text>
<text x="375.50" y="353.8" font-size="10.7" font-weight="bold" >R4: CXCR4</text>
<text transform="translate(375.80,368.4) scale(1.05,0.88)" font-size="11.5" style="font-family:'Liberation Serif',serif;stroke-width:0.4px">α</text><text x="382.33" y="368.4" font-size="10.7" font-weight="bold" >4: VLA-4</text>
<text transform="translate(375.80,382.3) scale(1.05,0.88)" font-size="11.5" style="font-family:'Liberation Serif',serif;stroke-width:0.4px">α</text><text x="382.33" y="382.3" font-size="10.7" font-weight="bold" >5: VLA-5</text>
</svg>
</body></html>
